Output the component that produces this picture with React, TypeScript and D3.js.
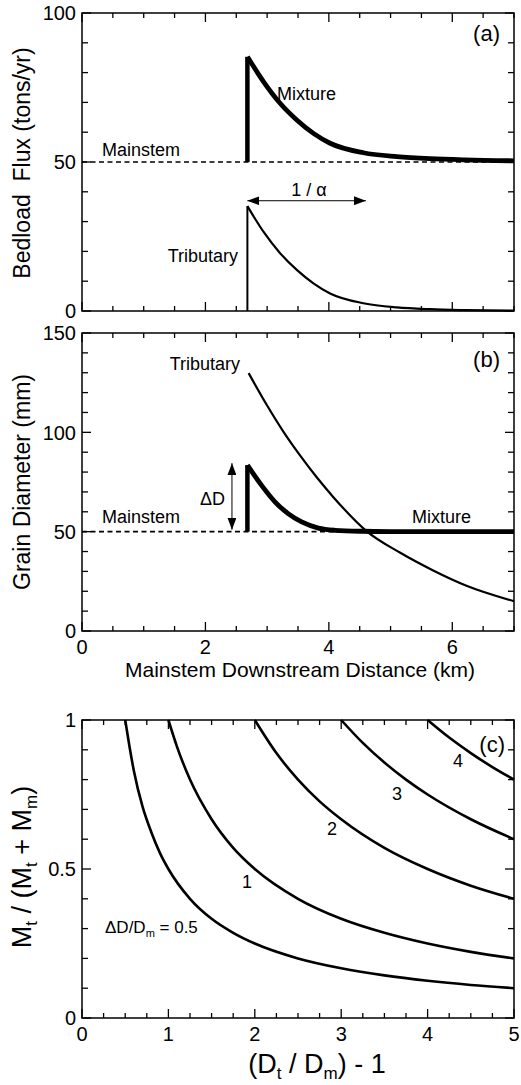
import React from "react";
import * as d3 from "d3";

// panel (a): bedload flux, tons/yr, against mainstem distance, km
const mainstemDist = [0, 7];
const mainstemFlux = [50, 50];
const junctionDist = 2.68;
const distA = [2.68, 2.94, 3.21, 3.48, 3.75, 4.02, 4.56, 5.1, 5.64, 6.2, 7];
const fluxTributary = [35.2, 26.6, 19.4, 13.8, 9.3, 5.9, 2.6, 1.2, 0.6, 0.3, 0.1];
const fluxMixture = [85.3, 77.0, 69.7, 64.1, 59.6, 56.3, 53.1, 51.8, 51.1, 50.7, 50.4];

// panel (b): grain diameter, mm
const mainstemDiam = [50, 50];
const distTribB = [2.7, 2.99, 3.26, 3.53, 3.8, 4.07, 4.61, 5.15, 5.69, 6.23, 7];
const diamTributary = [129.8, 114, 100.5, 88.5, 77.5, 67.5, 50.3, 39.5, 30.5, 22.8, 15];
const distMixB = [2.68, 2.91, 3.13, 3.34, 3.56, 3.83, 4.1, 4.53, 5, 6, 7];
const diamMixture = [83.5, 73.3, 64.9, 59.1, 54.9, 51.8, 50.7, 50.2, 50.05, 50, 50];

// panel (c): contours of dD/Dm
const contourLabels = ["0.5", "1", "2", "3", "4"];
const contourX = [
  [0.5, 0.55, 0.6, 0.7, 0.8, 0.9, 1, 1.25, 1.5, 1.75, 2, 2.5, 3, 3.5, 4, 4.5, 5],
  [1, 1.1, 1.25, 1.5, 1.75, 2, 2.5, 3, 3.5, 4, 4.5, 5],
  [2, 2.25, 2.5, 2.75, 3, 3.5, 4, 4.5, 5],
  [3, 3.25, 3.5, 3.75, 4, 4.5, 5],
  [4, 4.25, 4.5, 4.75, 5],
];
const contourY = [
  [1, 0.91, 0.83, 0.71, 0.625, 0.555, 0.5, 0.4, 0.333, 0.286, 0.25, 0.2, 0.167, 0.143, 0.125, 0.111, 0.1],
  [1, 0.91, 0.8, 0.667, 0.571, 0.5, 0.4, 0.333, 0.286, 0.25, 0.222, 0.2],
  [1, 0.889, 0.8, 0.727, 0.667, 0.571, 0.5, 0.444, 0.4],
  [1, 0.923, 0.857, 0.8, 0.75, 0.667, 0.6],
  [1, 0.941, 0.889, 0.842, 0.8],
];

// tick labels
const xLabelsAB = [0, 2, 4, 6];
const yLabelsA = [0, 50, 100];
const yLabelsB = [0, 50, 100, 150];
const xLabelsC = [0, 1, 2, 3, 4, 5];
const yLabelsC = [0, 0.5, 1];

const FONT = "'Liberation Sans', Arial, Helvetica, sans-serif";
const left = 82;
const right = 514;

const zip = (xs: number[], ys: number[]): [number, number][] => xs.map((x, i) => [x, ys[i]]);

const Frame = ({ x, y, xTicks, xMajor, yTicks, yMajor }: any) => {
  const [x0, x1] = x.range();
  const [y0, y1] = y.range();
  const items: JSX.Element[] = [];
  xTicks.forEach((t: number, i: number) => {
    const L = xMajor.includes(t) ? 9 : 5;
    items.push(<line key={"xb" + i} x1={x(t)} x2={x(t)} y1={y0} y2={y0 - L} />);
    items.push(<line key={"xt" + i} x1={x(t)} x2={x(t)} y1={y1} y2={y1 + L} />);
  });
  yTicks.forEach((t: number, i: number) => {
    const L = yMajor.includes(t) ? 9 : 6;
    items.push(<line key={"yl" + i} x1={x0} x2={x0 + L} y1={y(t)} y2={y(t)} />);
    items.push(<line key={"yr" + i} x1={x1} x2={x1 - L} y1={y(t)} y2={y(t)} />);
  });
  return (
    <g stroke="#000" strokeWidth={1.3} fill="none">
      {items}
      <rect x={x0} y={y1} width={x1 - x0} height={y0 - y1} strokeWidth={1.5} />
    </g>
  );
};

export default function App() {
  const x = d3.scaleLinear().domain([0, 7]).range([left, right]);
  const yA = d3.scaleLinear().domain([0, 100]).range([311, 13]);
  const yB = d3.scaleLinear().domain([0, 150]).range([631, 333]);
  const xC = d3.scaleLinear().domain([0, 5]).range([left, right]);
  const yC = d3.scaleLinear().domain([0, 1]).range([1018, 720]);

  const lineA = d3.line<[number, number]>().x((d) => x(d[0])).y((d) => yA(d[1])).curve(d3.curveMonotoneX);
  const lineB = d3.line<[number, number]>().x((d) => x(d[0])).y((d) => yB(d[1])).curve(d3.curveMonotoneX);
  const lineC = d3.line<[number, number]>().x((d) => xC(d[0])).y((d) => yC(d[1])).curve(d3.curveMonotoneX);

  const xTicksAB = d3.range(0, 7.001, 0.5);
  const lbl = { fontFamily: FONT, fontSize: 18, fill: "#000" };

  return (
    <svg
      width={521}
      height={1085}
      viewBox="0 0 521 1085"
      style={{ position: "absolute", left: 0, top: 0, background: "#fff" }}
      fontFamily={FONT}
    >
      <defs>
        <marker id="arr" viewBox="0 0 12 9" refX={12} refY={4.5} markerWidth={12} markerHeight={9}
          markerUnits="userSpaceOnUse" orient="auto-start-reverse">
          <path d="M0,0 L12,4.5 L0,9 Z" fill="#000" />
        </marker>
      </defs>
      <rect width={521} height={1085} fill="#fff" />

      {/* ---------- panel (a) ---------- */}
      <Frame x={x} y={yA} xTicks={xTicksAB} xMajor={xLabelsAB} yTicks={d3.range(0, 101, 10)} yMajor={yLabelsA} />
      {yLabelsA.map((v) => (
        <text key={v} x={left - 6} y={yA(v)} dy="0.36em" textAnchor="end" fontSize={20}>{v}</text>
      ))}
      <path d={lineA(zip(mainstemDist, mainstemFlux)) || ""} fill="none" stroke="#000" strokeWidth={1.6} strokeDasharray="5,3.5" />
      <line x1={x(junctionDist)} x2={x(junctionDist)} y1={yA(0)} y2={yA(fluxTributary[0])} stroke="#000" strokeWidth={2} />
      <path d={lineA(zip(distA, fluxTributary)) || ""} fill="none" stroke="#000" strokeWidth={2.2} />
      <line x1={x(junctionDist)} x2={x(junctionDist)} y1={yA(50)} y2={yA(fluxMixture[0])} stroke="#000" strokeWidth={4.5} />
      <path d={lineA(zip(distA, fluxMixture)) || ""} fill="none" stroke="#000" strokeWidth={4.8} />
      <line x1={x(junctionDist)} x2={x(4.6)} y1={yA(37)} y2={yA(37)} stroke="#000" strokeWidth={1}
        markerStart="url(#arr)" markerEnd="url(#arr)" />
      <text x={309} y={196} textAnchor="middle" {...lbl}>1 / α</text>
      <text x={277} y={100} {...lbl}>Mixture</text>
      <text x={102} y={156} {...lbl}>Mainstem</text>
      <text x={238} y={262} textAnchor="end" {...lbl}>Tributary</text>
      <text x={500} y={41} textAnchor="end" fontSize={22}>(a)</text>
      <text transform="translate(30,163) rotate(-90)" textAnchor="middle" fontSize={23} style={{ whiteSpace: "pre" }}>
        {"Bedload  Flux (tons/yr)"}
      </text>

      {/* ---------- panel (b) ---------- */}
      <Frame x={x} y={yB} xTicks={xTicksAB} xMajor={xLabelsAB} yTicks={d3.range(0, 151, 10)} yMajor={yLabelsB} />
      {yLabelsB.map((v) => (
        <text key={v} x={left - 6} y={yB(v)} dy="0.36em" textAnchor="end" fontSize={20}>{v}</text>
      ))}
      {xLabelsAB.map((v) => (
        <text key={v} x={x(v)} y={654} textAnchor="middle" fontSize={20}>{v}</text>
      ))}
      <path d={lineB(zip(mainstemDist, mainstemDiam)) || ""} fill="none" stroke="#000" strokeWidth={1.6} strokeDasharray="5,3.5" />
      <path d={lineB(zip(distTribB, diamTributary)) || ""} fill="none" stroke="#000" strokeWidth={2.2} />
      <line x1={x(junctionDist)} x2={x(junctionDist)} y1={yB(50)} y2={yB(diamMixture[0])} stroke="#000" strokeWidth={4.5} />
      <path d={lineB(zip(distMixB, diamMixture)) || ""} fill="none" stroke="#000" strokeWidth={4.8} />
      <line x1={x(2.43)} x2={x(2.43)} y1={yB(51)} y2={yB(84.5)} stroke="#000" strokeWidth={1}
        markerStart="url(#arr)" markerEnd="url(#arr)" />
      <text x={225} y={505} textAnchor="end" {...lbl}>ΔD</text>
      <text x={240} y={370} textAnchor="end" {...lbl}>Tributary</text>
      <text x={102} y={523} {...lbl}>Mainstem</text>
      <text x={412} y={523} {...lbl}>Mixture</text>
      <text x={500} y={367} textAnchor="end" fontSize={22}>(b)</text>
      <text transform="translate(30,482) rotate(-90)" textAnchor="middle" fontSize={23}>Grain Diameter (mm)</text>
      <text x={300} y={677} textAnchor="middle" fontSize={21}>Mainstem Downstream Distance (km)</text>

      {/* ---------- panel (c) ---------- */}
      <Frame x={xC} y={yC} xTicks={d3.range(0, 5.001, 0.25)} xMajor={xLabelsC}
        yTicks={d3.range(0, 10.01, 1).map((v) => v / 10)} yMajor={yLabelsC} />
      {yLabelsC.map((v) => (
        <text key={v} x={left - 6} y={yC(v)} dy="0.36em" textAnchor="end" fontSize={20}>{v}</text>
      ))}
      {xLabelsC.map((v) => (
        <text key={v} x={xC(v)} y={1041} textAnchor="middle" fontSize={20}>{v}</text>
      ))}
      {contourLabels.map((k, i) => (
        <path key={k} d={lineC(zip(contourX[i], contourY[i])) || ""} fill="none" stroke="#000" strokeWidth={2.6} />
      ))}
      <text x={458} y={767} textAnchor="middle" {...lbl}>{contourLabels[4]}</text>
      <text x={397} y={800} textAnchor="middle" {...lbl}>{contourLabels[3]}</text>
      <text x={332} y={835} textAnchor="middle" {...lbl}>{contourLabels[2]}</text>
      <text x={247} y={888} textAnchor="middle" {...lbl}>{contourLabels[1]}</text>
      <text x={105} y={933} fontSize={17}>
        ΔD/D<tspan dy={4} fontSize={11}>m</tspan><tspan dy={-4}> = {contourLabels[0]}</tspan>
      </text>
      <text x={505} y={752} textAnchor="end" fontSize={22}>(c)</text>
      <text transform="translate(31,867) rotate(-90)" textAnchor="middle" fontSize={27}>
        M<tspan dy={6} fontSize={17}>t</tspan>
        <tspan dy={-6}> / (M</tspan>
        <tspan dy={6} fontSize={17}>t</tspan>
        <tspan dy={-6}> + M</tspan>
        <tspan dy={6} fontSize={17}>m</tspan>
        <tspan dy={-6}>)</tspan>
      </text>
      <text x={317} y={1073} textAnchor="middle" fontSize={27}>
        (D<tspan dy={6} fontSize={17}>t</tspan>
        <tspan dy={-6}> / D</tspan>
        <tspan dy={6} fontSize={17}>m</tspan>
        <tspan dy={-6}>)  -  1</tspan>
      </text>
    </svg>
  );
}
